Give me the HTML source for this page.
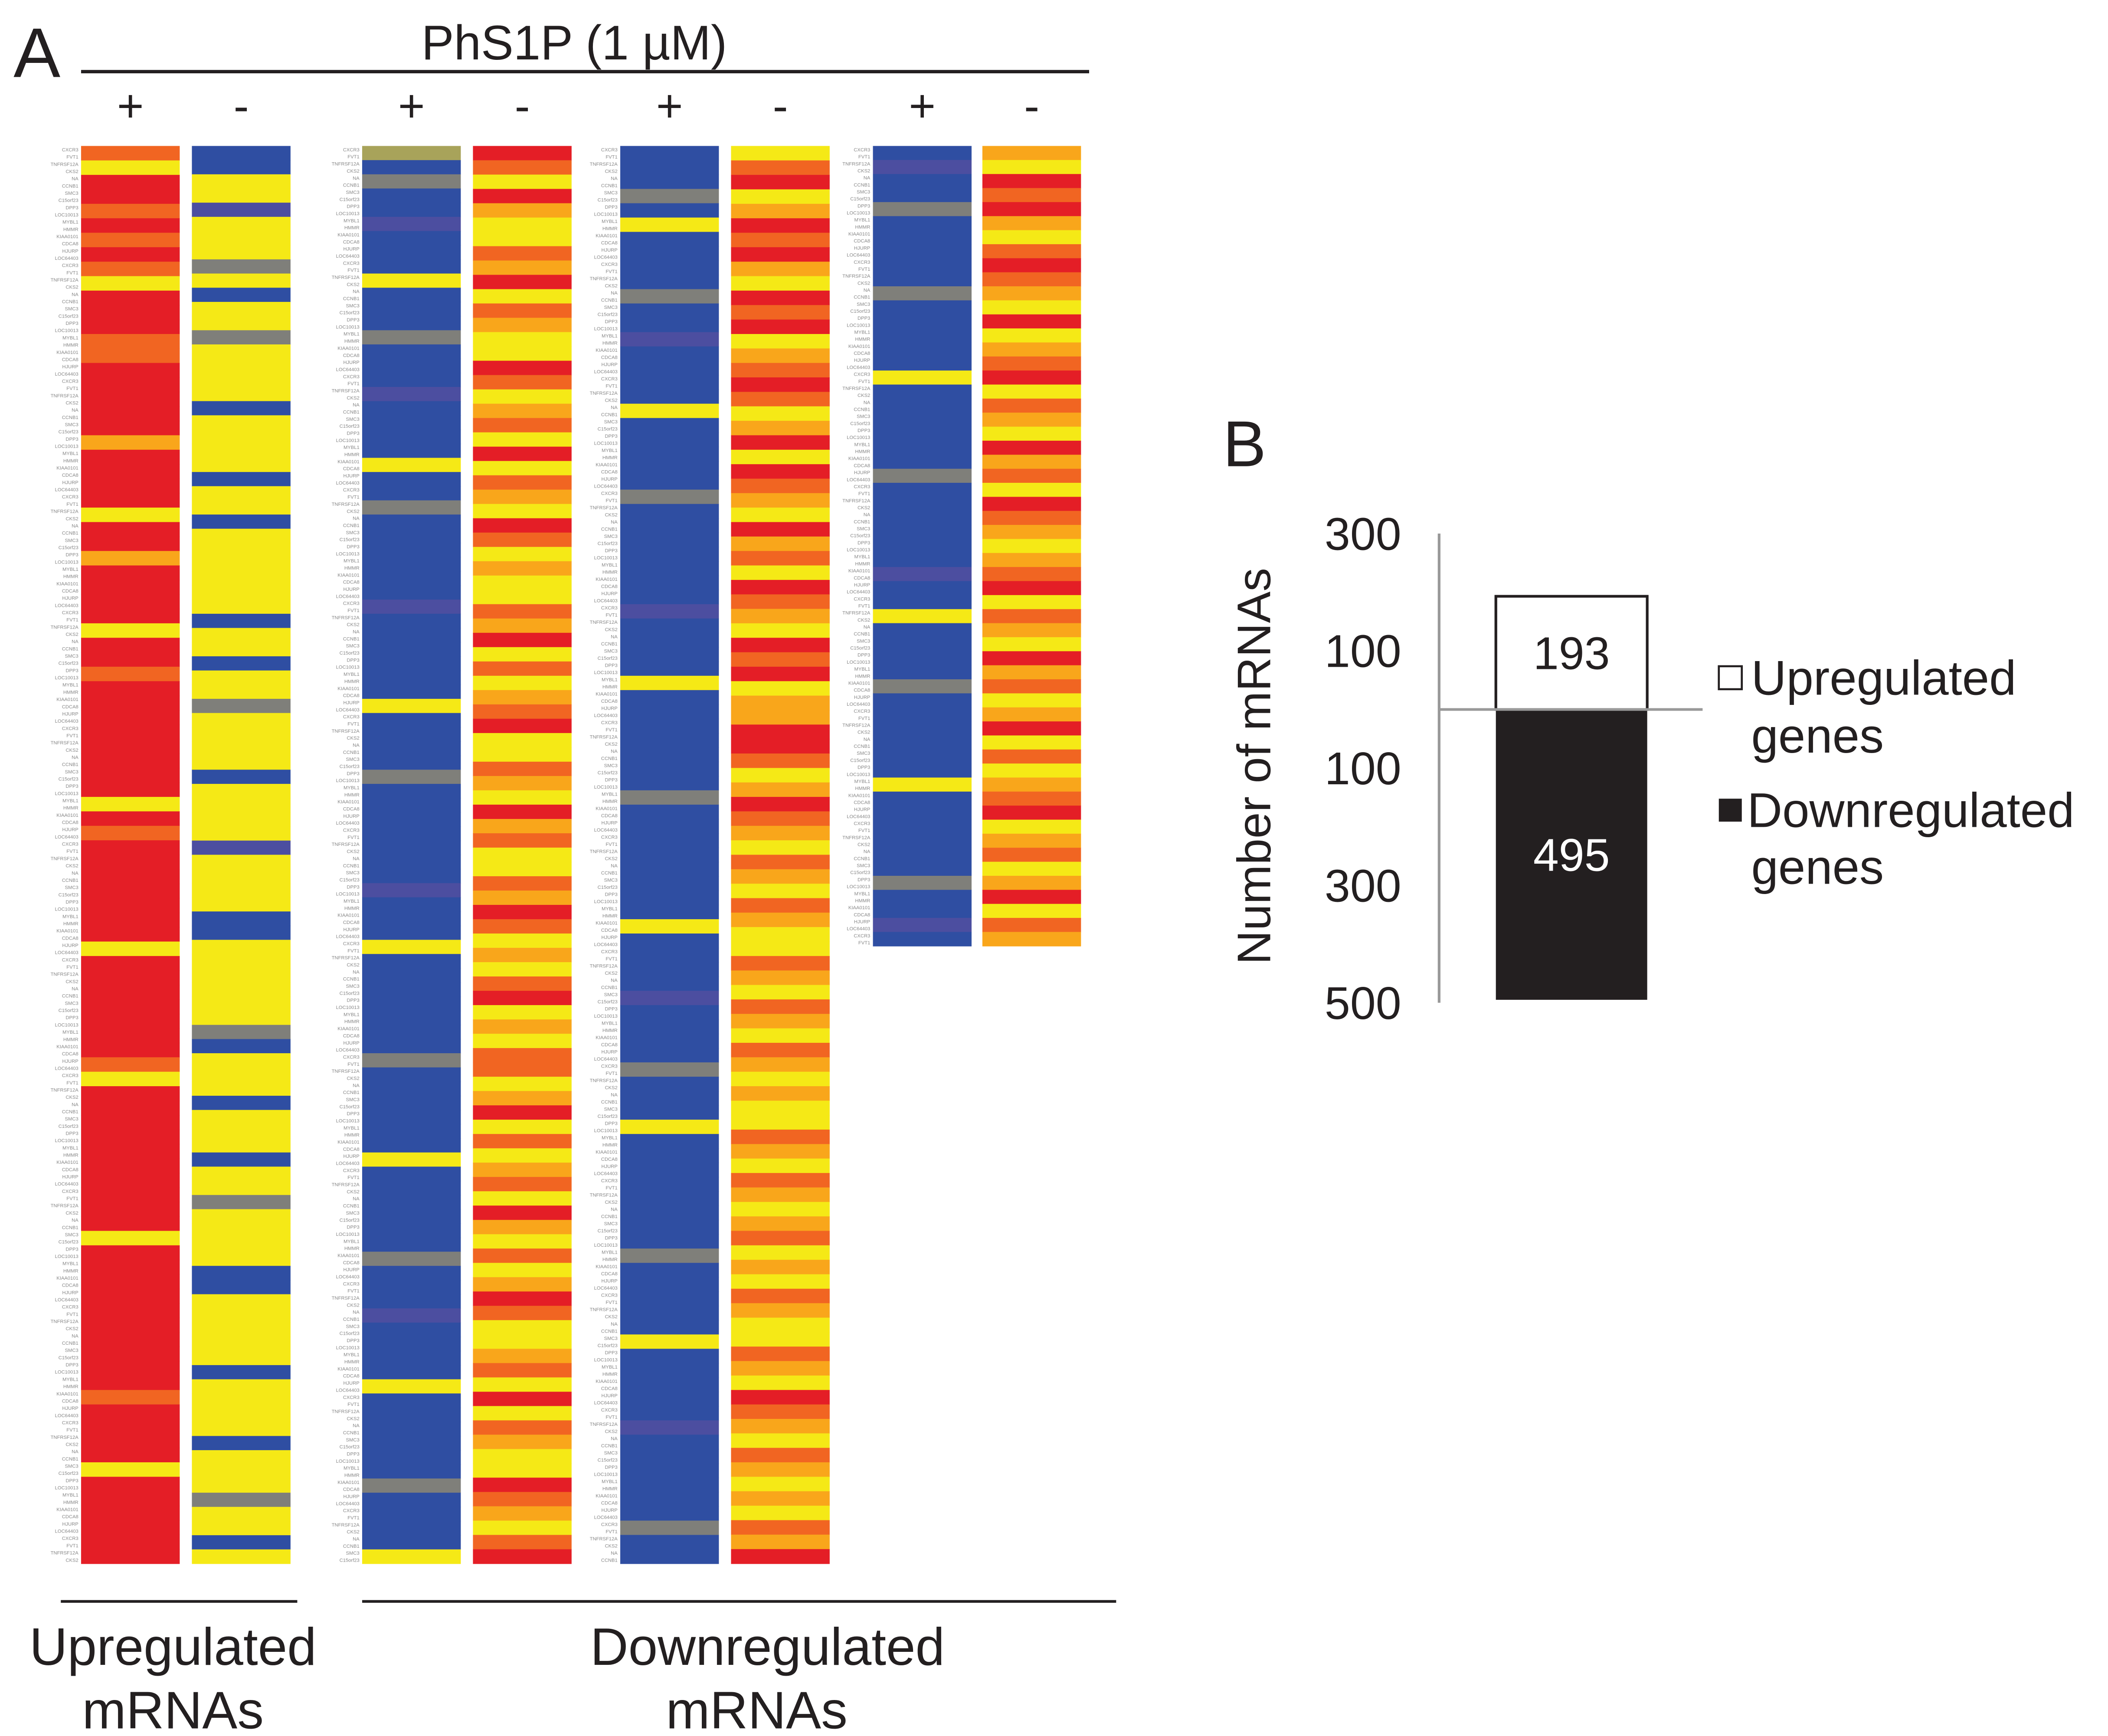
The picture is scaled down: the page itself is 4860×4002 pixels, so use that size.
<!DOCTYPE html>
<html><head><meta charset="utf-8"><style>
html,body{margin:0;padding:0;background:#fff;}
svg{display:block;font-family:"Liberation Sans",Arial,sans-serif;}
</style></head><body>
<svg id="fig" width="4860" height="4002" viewBox="0 0 1560 1284.6" xmlns="http://www.w3.org/2000/svg">
<rect width="1560" height="1284.6" fill="#fff"/>
<g id="panelA">
<text x="10" y="57" font-size="52" fill="#231f20">A</text>
<text x="425" y="44" font-size="36" text-anchor="middle" fill="#231f20">PhS1P (1 µM)</text>
<line x1="60" y1="53" x2="806" y2="53" stroke="#231f20" stroke-width="2.5"/>
<g id="signs" font-size="34" text-anchor="middle" fill="#231f20"></g>
<g id="heat"></g>
<line x1="45" y1="1185" x2="220" y2="1185" stroke="#231f20" stroke-width="2"/>
<line x1="268" y1="1185" x2="826" y2="1185" stroke="#231f20" stroke-width="2"/>
<text font-size="39" text-anchor="middle" fill="#231f20"><tspan x="128" y="1232">Upregulated</tspan><tspan x="128" y="1279">mRNAs</tspan></text>
<text font-size="39" text-anchor="middle" fill="#231f20"><tspan x="568" y="1232">Downregulated</tspan><tspan x="560" y="1279">mRNAs</tspan></text>
</g>
<g id="panelB">
<text x="905" y="345" font-size="48" fill="#231f20">B</text>
<text transform="translate(940,567) rotate(-90)" font-size="35" text-anchor="middle" fill="#231f20">Number of mRNAs</text>
<g id="bars"></g>
</g>
</svg>
<script>
// Heatmap data: R red, O orange, L light orange, Y yellow, B blue, P purple-blue, G grey, V olive
const col1 = "OYRROROROYRRROORRRRRLRRRRYRRLRRRRYRRORRRRRRRRYRORRRRRRRYRRRRRRROYRRRRRRRRRRYRRRRRRRRRRORRRRYRRRRRR";
const col2 = "BBYYPYYYGYBYYGYYYYBYYYYBYYBYYYYYYBYYBYYGYYYYBYYYYPYYYYBBYYYYYYGBYYYBYYYBYYGYYYYBBYYYYYBYYYYBYYYGYYBY";
const col3 = "VBGBBPBBBYBBBGBBBPBBBBYBBGBBBBBBPBBBBBBYBBBBGBBBBBBBPBBBYBBBBBBBGBBBBBBYBBBBBBGBBBPBBBBYBBBBBBGBBBBY";
const col4 = "ROYRLYYOLRYOLYYROYLOYRYOLYROYLYYOLRYOYLORYYOLYRLOYYOLROYLYORYLYOOYLRYOYLOYRLYOYLROYYLOYRYOLYYROLYOR";
const col5 = "BBBGBYBBBBGBBPBBBBYBBBBBGBBBBBBBPBBBBYBBBBBBBGBBBBBBBBYBBBBPBBBBGBBBYBBBBBBBBGBBBBBYBBBBBPBBBBBBGBB";
const col6 = "YORYLRORLYRORYLOROYLRYROLYRLOYROLYRORYLLRROYLROLYOLYOLYYOLYOLYOLYLYYOLYOLYLOYLYOLYYOLYROLYOLYLYOLR";
const col7 = "BPBBGBBBBBGBBBBBYBBBBBBGBBBBBBPBBYBBBBGBBBBBBYBBBBBBGBBPB";
const col8 = "LYRORLYOROLYRYLORYOLYRLOYROLYLORYOLYRLOYLRYOYLORYLOYLRYOL";
const columns = [col1,col2,col3,col4,col5,col6,col7,col8];
const signLabels = ["+","-","+","-","+","-","+","-"];
const geneNames = ["CXCR3","FVT1","TNFRSF12A","CKS2","NA","CCNB1","SMC3","C15orf23","DPP3","LOC10013","MYBL1","HMMR","KIAA0101","CDCA8","HJURP","LOC64403"];
const palette = {R:"#e41e26",O:"#f16522",L:"#f9a61b",Y:"#f5e916",B:"#2f4ea2",P:"#4c4ea0",G:"#7f7f7a",V:"#a8a35a"};
const colX = [60,142,268,350,459,541,646,727];
const colHeights = [1049,1049,1049,1049,1049,1049,592,592];
const colW = 73, heatTop = 108;
const NS = "http://www.w3.org/2000/svg";
const heat = document.getElementById('heat');
columns.forEach((s, ci) => {
  const rowH = colHeights[ci] / s.length;
  for (let r = 0; r < s.length; r++) {
    const rect = document.createElementNS(NS, 'rect');
    
    
    rect.setAttribute('x', colX[ci]);
    rect.setAttribute('y', heatTop + r * rowH);
    rect.setAttribute('width', colW);
    rect.setAttribute('height', rowH + 0.3);
    rect.setAttribute('fill', palette[s[r]]);
    heat.appendChild(rect);
  }
});
[0,2,4,6].forEach(ci => {
  const n = columns[ci].length * 2;
  const step = colHeights[ci] / n;
  for (let r = 0; r < n; r++) {
    const t = document.createElementNS(NS, 'text');
    
    
    t.setAttribute('x', colX[ci] - 2);
    t.setAttribute('y', heatTop + 4 + r * step);
    t.setAttribute('font-size', '3.6');
    t.setAttribute('text-anchor', 'end');
    t.setAttribute('fill', '#888');
    t.textContent = geneNames[r % geneNames.length];
    heat.appendChild(t);
  }
});
const signs = document.getElementById('signs');
signLabels.forEach((lab, i) => {
  const t = document.createElementNS(NS, 'text');
  
  
  t.setAttribute('x', colX[i] + colW / 2);
  t.setAttribute('y', 90);
  t.textContent = lab;
  signs.appendChild(t);
});

// Panel B bar chart
const barCategories = ["Upregulated genes","Downregulated genes"];
const barValues = [193, 495];
const tickValues = [300,100,0,100,300,500];
const tickSigned = [300,100,0,-100,-300,-500];
const bars = document.getElementById('bars');
const y0 = 525, pxPer = 43.4 / 100;
const yScale = v => y0 - v * pxPer;
function add(tag, attrs, name, text) {
  const e = document.createElementNS(NS, tag);
  for (const k in attrs) e.setAttribute(k, attrs[k]);
  
  
  if (text !== undefined) e.textContent = text;
  bars.appendChild(e);
  return e;
}
add('line', {x1:1065,y1:yScale(300),x2:1065,y2:yScale(-500),stroke:'#999','stroke-width':2}, 'y-axis-line');
tickSigned.forEach((v, i) => {
  if (v === 0) return;
  add('text', {x:1037,y:yScale(v)+12,'font-size':34,'text-anchor':'end',fill:'#231f20'}, 'y-tick-label', String(tickValues[i]));
});
const upTop = yScale(barValues[0]);
add('rect', {x:1107,y:upTop,width:112,height:y0-upTop,fill:'#fff',stroke:'#231f20','stroke-width':2}, 'bar-upregulated');
add('text', {x:1163,y:(upTop+y0)/2+12,'font-size':34,'text-anchor':'middle',fill:'#231f20'}, 'bar-upregulated-value', String(barValues[0]));
const dnBot = yScale(-barValues[1]);
add('rect', {x:1107,y:y0,width:112,height:dnBot-y0,fill:'#231f20'}, 'bar-downregulated');
add('text', {x:1163,y:(y0+dnBot)/2+12,'font-size':34,'text-anchor':'middle',fill:'#fff'}, 'bar-downregulated-value', String(barValues[1]));
add('line', {x1:1065,y1:y0,x2:1260,y2:y0,stroke:'#999','stroke-width':2}, 'zero-baseline');
add('rect', {x:1272,y:493,width:17,height:17,fill:'#fff',stroke:'#231f20','stroke-width':1.5}, 'legend-swatch-upregulated');
add('text', {x:1296,y:514,'font-size':36,fill:'#231f20'}, 'legend-entry-upregulated', 'Upregulated');
add('text', {x:1296,y:557,'font-size':36,fill:'#231f20'}, 'legend-entry-upregulated-line2', 'genes');
add('rect', {x:1272,y:591,width:17,height:17,fill:'#231f20'}, 'legend-swatch-downregulated');
add('text', {x:1293,y:612,'font-size':36,fill:'#231f20'}, 'legend-entry-downregulated', 'Downregulated');
add('text', {x:1296,y:654,'font-size':36,fill:'#231f20'}, 'legend-entry-downregulated-line2', 'genes');
</script>
</body></html>
